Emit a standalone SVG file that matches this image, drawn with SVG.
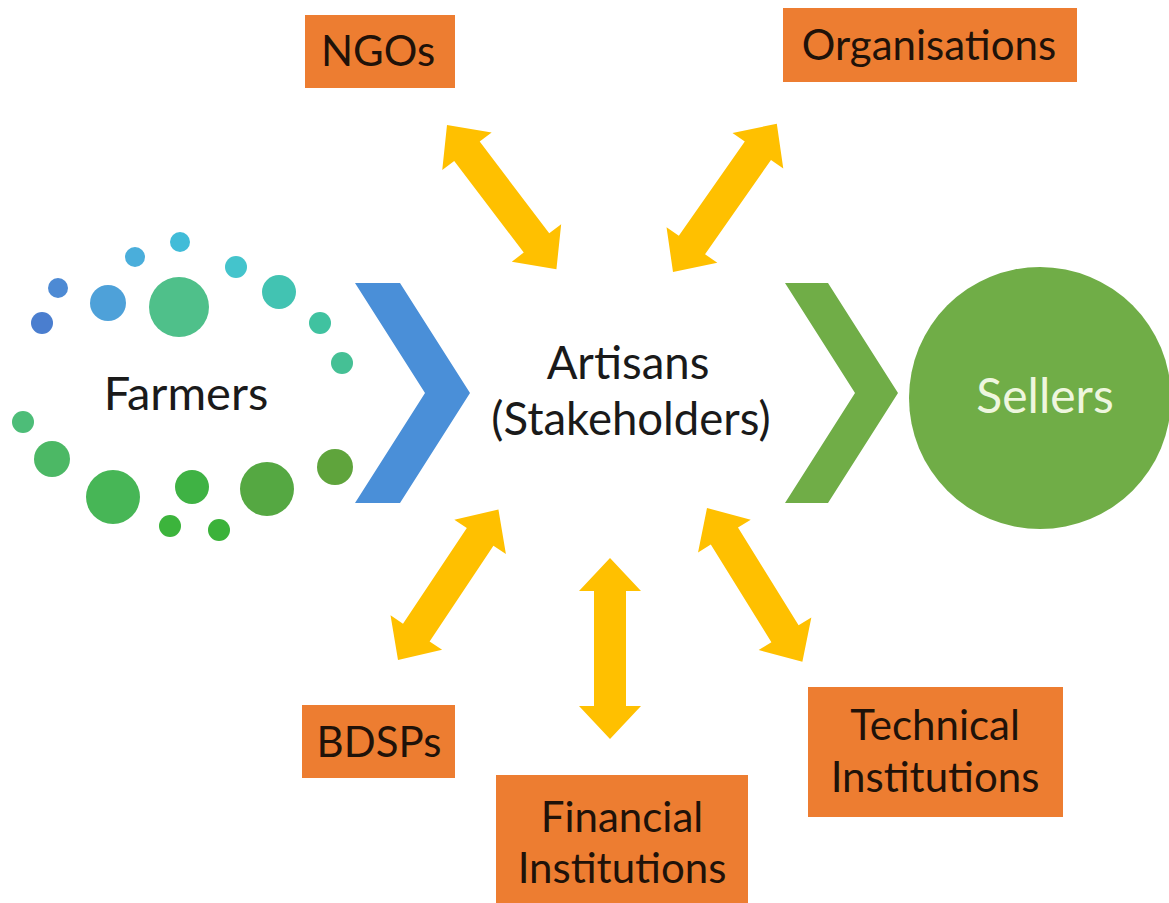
<svg xmlns="http://www.w3.org/2000/svg" xmlns:xlink="http://www.w3.org/1999/xlink" width="1169" height="903" viewBox="0 0 1169 903">
  <style>
    text { font-family: Lato, "Open Sans", "Liberation Sans", sans-serif; text-anchor: middle; }
    .box { fill: #ed7d31; }
    .boxlabel { fill: #1f1209; font-size: 42px; }
    .label { fill: #1a1a1a; font-size: 47px; }
    .center { fill: #1a1a1a; font-size: 45.5px; }
    .light { fill: #eef6de; font-size: 48px; }
    .dbl { fill: #ffc000; }
  </style>
  <defs>
    <!-- block double arrow laid along +x, tip at origin -->
    <path id="dbl" d="M0,0 L33,-31 L33,-16 L148,-16 L148,-31 L181,0 L148,31 L148,16 L33,16 L33,31 Z"/>
  </defs>

  <rect width="1169" height="903" fill="#ffffff"/>

  <!-- Farmers: ring of dots with label -->
  <g id="farmers">
    <circle cx="42" cy="323" r="11" fill="#4a7ecf"/>
    <circle cx="58" cy="288" r="10" fill="#4d8ad4"/>
    <circle cx="108" cy="303" r="18" fill="#4ea1d9"/>
    <circle cx="135" cy="257" r="10" fill="#4aaedb"/>
    <circle cx="180" cy="242" r="10" fill="#41bcd8"/>
    <circle cx="179" cy="307" r="30" fill="#4fc08a"/>
    <circle cx="236" cy="267" r="11" fill="#44c4cc"/>
    <circle cx="279" cy="292" r="17" fill="#42c3b2"/>
    <circle cx="320" cy="323" r="11" fill="#40c2a0"/>
    <circle cx="342" cy="363" r="11" fill="#45c095"/>
    <circle cx="23" cy="422" r="11" fill="#4dbd78"/>
    <circle cx="52" cy="459" r="18" fill="#4cb865"/>
    <circle cx="113" cy="497" r="27" fill="#47b656"/>
    <circle cx="192" cy="487" r="17" fill="#3fb244"/>
    <circle cx="170" cy="526" r="11" fill="#3cb43c"/>
    <circle cx="219" cy="530" r="11" fill="#3bb23a"/>
    <circle cx="267" cy="489" r="27" fill="#55a842"/>
    <circle cx="335" cy="467" r="18" fill="#5fa43c"/>
    <text class="label" x="186" y="410">Farmers</text>
  </g>

  <!-- flow chevrons -->
  <g id="chevron-in">
    <polygon points="355,283 400,283 470,393 400,503 355,503 425,393" fill="#4a8fd8"/>
  </g>
  <g id="chevron-out">
    <polygon points="785,283 828,283 898,393 828,503 785,503 855,393" fill="#70ad47"/>
  </g>

  <!-- central actor -->
  <g id="artisans">
    <text class="center" x="628" y="379">Artisans</text>
    <text class="center" x="631" y="435">(Stakeholders)</text>
  </g>

  <!-- Sellers -->
  <g id="sellers">
    <circle cx="1040" cy="398" r="131" fill="#70ad47"/>
    <text class="light" x="1045" y="413">Sellers</text>
  </g>

  <!-- stakeholder boxes -->
  <g id="ngos">
    <rect class="box" x="305" y="15" width="150" height="73"/>
    <text class="boxlabel" x="378" y="66">NGOs</text>
  </g>
  <g id="organisations">
    <rect class="box" x="783" y="8" width="294" height="74"/>
    <text class="boxlabel" x="929" y="60">Organisations</text>
  </g>
  <g id="bdsps">
    <rect class="box" x="302" y="705" width="153" height="73"/>
    <text class="boxlabel" x="379" y="757">BDSPs</text>
  </g>
  <g id="financial">
    <rect class="box" x="496" y="775" width="252" height="128"/>
    <text class="boxlabel" x="622" y="832">Financial</text>
    <text class="boxlabel" x="622" y="883">Institutions</text>
  </g>
  <g id="technical">
    <rect class="box" x="808" y="687" width="255" height="130"/>
    <text class="boxlabel" x="935" y="740">Technical</text>
    <text class="boxlabel" x="935" y="792">Institutions</text>
  </g>

  <!-- two-way links between the artisans and each stakeholder -->
  <g id="connectors" class="dbl">
    <use xlink:href="#dbl" transform="translate(447,125) rotate(52.8)"/>
    <use xlink:href="#dbl" transform="translate(673,272) rotate(-55)"/>
    <use xlink:href="#dbl" transform="translate(398,660) rotate(-56.3)"/>
    <use xlink:href="#dbl" transform="translate(610,558) rotate(90)"/>
    <use xlink:href="#dbl" transform="translate(707,508) rotate(58.2)"/>
  </g>
</svg>
